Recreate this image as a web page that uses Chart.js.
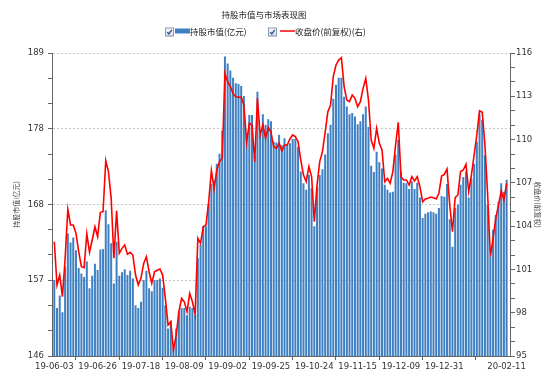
<!DOCTYPE html>
<html><head><meta charset="utf-8">
<script src="https://cdn.jsdelivr.net/npm/chart.js@4.4.1/dist/chart.umd.min.js"></script>
<style>html,body{margin:0;padding:0;background:#fff}#wrap{width:558px;height:379px;position:relative}</style>
</head><body><div id="wrap"><canvas id="c"></canvas></div>
<script>
const titleText = '持股市值与市场表现图';
const seriesNames = ['持股市值(亿元)', '收盘价(前复权)(右)'];
const leftAxisTitle = '持股市值(亿元)';
const rightAxisTitle = '收盘价(前复权)';
const tickIndex = [0,16,32,48,64,80,96,112,128,144,167];
const tickLabels = ['19-06-03','19-06-26','19-07-18','19-08-09','19-09-02','19-09-25','19-10-24','19-11-15','19-12-09','19-12-31','20-02-11'];
const marketValue = [
156.8,152.8,154.6,152.2,158.7,163.4,162.1,162.8,161.0,158.5,
157.7,157.2,159.4,155.6,157.4,159.1,158.2,161.1,161.2,166.7,
164.7,162.0,156.3,162.2,157.4,157.9,158.3,157.5,158.1,157.0,
153.2,152.8,153.7,156.8,158.1,155.6,155.2,156.8,156.8,157.0,
155.7,153.2,149.9,151.0,147.2,149.9,152.3,152.8,152.8,151.8,
153.0,152.8,151.8,159.9,161.8,164.4,164.4,167.6,170.4,170.9,
173.3,174.7,178.0,188.5,187.5,186.5,185.5,184.7,184.6,184.3,
182.9,177.6,180.2,180.2,174.5,183.5,177.4,180.3,178.8,179.6,
179.3,176.4,176.3,177.4,175.9,176.9,176.1,176.2,176.8,176.8,
175.7,172.2,170.5,169.6,171.7,169.8,164.4,170.0,171.7,172.5,
174.6,177.6,178.8,182.5,184.5,185.5,185.5,182.8,181.4,180.3,
180.5,180.0,178.9,179.3,180.3,181.4,178.5,173.0,172.1,175.0,
173.5,172.6,170.3,169.6,169.2,169.3,174.6,176.7,172.2,170.6,
170.5,169.7,170.8,169.7,170.6,168.5,165.6,166.2,166.4,166.5,
166.4,166.2,167.0,168.7,168.6,170.4,165.4,161.5,167.0,167.5,
170.3,171.4,172.2,168.5,171.2,173.3,176.4,180.4,179.5,174.5,
167.4,160.1,163.9,166.0,167.9,170.5,169.3,171.0
];
const closePrice = [
102.92,99.92,100.61,99.11,101.77,105.17,104.08,104.08,103.50,102.23,
101.19,101.12,103.46,102.19,103.04,103.96,103.27,104.96,105.00,108.54,
107.78,105.93,101.77,105.07,102.12,102.46,102.69,102.05,102.19,102.00,
100.61,99.92,100.38,101.42,101.88,100.84,100.04,100.84,100.94,101.03,
100.61,99.00,97.15,97.38,95.41,96.45,98.07,99.00,98.76,98.07,
99.34,98.76,97.89,103.16,102.81,103.96,104.08,105.69,107.85,106.62,
107.89,108.47,108.70,114.59,114.01,113.67,113.20,112.97,112.93,112.93,
112.40,109.81,111.13,111.01,108.47,112.86,110.32,111.01,110.09,110.83,
110.50,109.51,109.39,109.74,109.21,109.62,109.62,110.04,110.32,110.20,
109.85,108.58,107.54,107.08,108.12,107.43,104.31,106.85,108.47,109.16,
110.50,111.93,112.40,114.36,115.17,115.51,115.68,113.67,112.74,112.63,
113.09,112.86,112.28,112.63,113.55,114.24,112.74,109.97,109.39,110.78,
109.74,109.28,107.08,107.31,106.97,107.78,109.62,111.20,107.43,107.20,
107.20,106.85,107.43,107.13,107.43,106.73,105.69,105.88,105.93,106.02,
105.97,105.88,106.28,107.47,107.59,107.96,105.46,103.61,105.97,106.16,
107.78,107.89,108.29,106.39,107.54,108.93,110.32,112.00,111.89,109.62,
106.16,101.88,103.16,104.54,105.46,106.43,105.81,106.97
];
const leftMin = 146, leftMax = 189;
const rightMin = 95, rightMax = 116, rightLabelStep = 3;

const barColor = '#3f80c2';
const lineColor = '#ff0000';
const cjk = '"Noto Sans CJK SC", "Noto Sans", sans-serif';
const num = '"DejaVu Sans", sans-serif';

function drawCheckbox(ctx, x, y) {
  const g = ctx.createLinearGradient(x, y, x, y + 9);
  g.addColorStop(0, '#fbfcfe'); g.addColorStop(1, '#d3dae6');
  ctx.fillStyle = g;
  ctx.fillRect(x, y, 9, 9);
  ctx.strokeStyle = '#8d99ad'; ctx.lineWidth = 1;
  ctx.strokeRect(x + 0.5, y + 0.5, 8, 8);
  ctx.strokeStyle = '#2d4f9a'; ctx.lineWidth = 1.3;
  ctx.beginPath(); ctx.moveTo(x + 2.3, y + 4.6); ctx.lineTo(x + 3.8, y + 6.5); ctx.lineTo(x + 6.8, y + 2.3); ctx.stroke();
}

const checkLegend = {
  id: 'checkLegend',
  afterLayout(chart) {
    chart.titleBlock.left -= 30;
  },
  afterDraw(chart) {
    const ctx = chart.ctx;
    ctx.save();
    const y = 31.5;
    const starts = [165, 268];
    ctx.font = '8.5px ' + cjk;
    ctx.textBaseline = 'middle';
    ctx.textAlign = 'left';
    starts.forEach((x, k) => {
      drawCheckbox(ctx, x, y - 4);
      let tx;
      if (k === 0) {
        ctx.fillStyle = barColor; ctx.fillRect(x + 10, y - 3, 15, 5); tx = x + 25;
      } else {
        ctx.strokeStyle = lineColor; ctx.lineWidth = 1.5;
        ctx.beginPath(); ctx.moveTo(x + 12, y - 0.5); ctx.lineTo(x + 27, y - 0.5); ctx.stroke(); tx = x + 27;
      }
      ctx.fillStyle = '#222';
      ctx.fillText(seriesNames[k], tx, y + 0.5);
    });
    ctx.restore();
  }
};

const leftTicks = Array.from({length: 13}, (_, k) => leftMin + k * (leftMax - leftMin) / 12);
const rightTicks = Array.from({length: rightMax - rightMin + 1}, (_, k) => rightMin + k);

new Chart(document.getElementById('c'), {
  type: 'bar',
  data: {
    datasets: [
      {
        type: 'line', label: seriesNames[1], yAxisID: 'y1', xAxisID: 'x',
        data: closePrice.map((v, i) => ({x: i, y: v})),
        borderColor: lineColor, borderWidth: 1.6, pointRadius: 0, tension: 0, fill: false, order: 0
      },
      {
        type: 'bar', label: seriesNames[0], yAxisID: 'y', xAxisID: 'x',
        data: marketValue.map((v, i) => ({x: i, y: v})),
        backgroundColor: barColor, borderWidth: 0, barPercentage: 0.74, categoryPercentage: 1, order: 1
      }
    ]
  },
  options: {
    responsive: true, maintainAspectRatio: false, animation: false, devicePixelRatio: 1,
    layout: {padding: 0},
    plugins: {
      legend: {display: false},
      tooltip: {enabled: false},
      title: {display: true, text: titleText, color: '#222', font: {family: cjk, size: 8.5, weight: 'normal'}, padding: {top: 10, bottom: 32.8}}
    },
    scales: {
      x: {
        type: 'linear', position: 'bottom', min: -0.85, max: 168.25, offset: false,
        afterBuildTicks: s => { s.ticks = tickIndex.map(v => ({value: v})); },
        afterFit: s => { s.height = 23; },
        ticks: {autoSkip: false, maxRotation: 0, padding: 2, color: '#333', font: {family: num, size: 8.5},
          callback: v => { const k = tickIndex.indexOf(v); return k >= 0 ? tickLabels[k] : null; }},
        grid: {drawOnChartArea: false, drawTicks: true, tickLength: 4, tickColor: '#666'},
        border: {color: '#666', width: 1}
      },
      y: {
        type: 'linear', position: 'left', min: leftMin, max: leftMax,
        afterBuildTicks: s => { s.ticks = leftTicks.map(v => ({value: v})); },
        afterFit: s => { s.width = 52; },
        ticks: {padding: 4, color: '#333', font: {family: num, size: 8.5},
          callback: (v, i) => (i % 3 === 0 ? String(Math.round(v)) : '')},
        grid: {drawOnChartArea: true, drawTicks: true, tickLength: 4, tickColor: '#666',
          color: c => (c.index % 3 === 0 && c.index > 0 ? '#c4c4c4' : 'rgba(0,0,0,0)')},
        border: {color: '#666', width: 1, dash: [2, 2]},
        title: {display: true, text: leftAxisTitle, color: '#444', font: {family: cjk, size: 7}, padding: {top: 12, bottom: 0}}
      },
      y1: {
        type: 'linear', position: 'right', min: rightMin, max: rightMax,
        afterBuildTicks: s => { s.ticks = rightTicks.map(v => ({value: v})); },
        afterFit: s => { s.width = 48; },
        ticks: {padding: 1, color: '#333', font: {family: num, size: 8.5},
          callback: v => ((v - rightMin) % rightLabelStep === 0 ? String(v) : '')},
        grid: {drawOnChartArea: false, drawTicks: true, tickLength: 5, tickColor: '#666'},
        border: {color: '#666', width: 1},
        title: {display: true, text: rightAxisTitle, color: '#444', font: {family: cjk, size: 7}, padding: {top: 16, bottom: 0}}
      }
    }
  },
  plugins: [checkLegend]
});
</script>
</body></html>
